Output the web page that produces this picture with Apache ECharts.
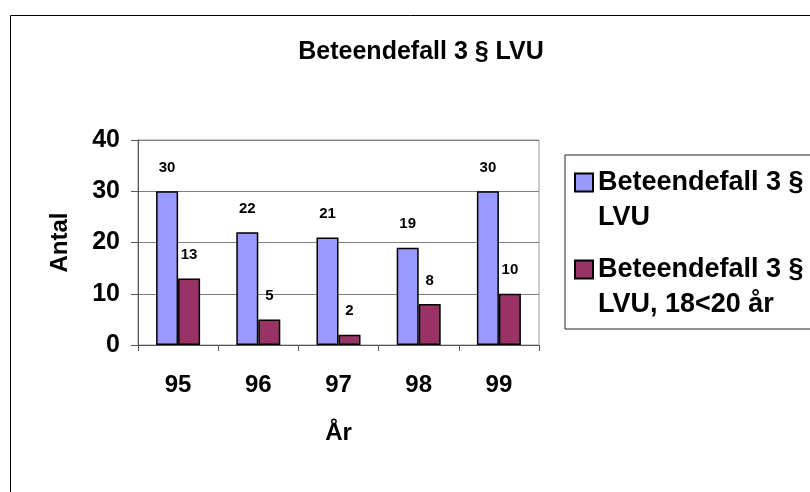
<!DOCTYPE html>
<html>
<head>
<meta charset="utf-8">
<script src="https://cdn.jsdelivr.net/npm/echarts@6/dist/echarts.min.js"></script>
<style>
html,body{margin:0;padding:0;background:#fff;}
#chart{width:810px;height:492px;}
</style>
</head>
<body>
<div id="chart"></div>
<script>
var categories = ['95', '96', '97', '98', '99'];
var seriesNames = ['Beteendefall 3 § LVU', 'Beteendefall 3 § LVU, 18<20 år'];
var valuesAll = [30, 22, 21, 19, 30];
var values1820 = [13, 5, 2, 8, 10];
var yTicks = [0, 10, 20, 30, 40];

var FONT = "'Liberation Sans', Arial, sans-serif";
var chart = echarts.init(document.getElementById('chart'), null, {renderer: 'canvas'});

var labelStyle = {
  show: true, position: 'top', distance: 16,
  fontFamily: FONT, fontWeight: 'bold', fontSize: 15, color: '#000'
};

// legend marker: square in the upper part of a tall icon box, so it lines up with the first text line
var legendIcon = 'path://M0,0L0,0M0,8.5L18,8.5L18,26.5L0,26.5ZM0,70L0,70';

chart.setOption({
  animation: false,
  backgroundColor: '#fff',
  title: {
    text: 'Beteendefall 3 § LVU',
    left: 416, top: 35, textAlign: 'center',
    textStyle: {fontFamily: FONT, fontWeight: 'bold', fontSize: 25, color: '#000'}
  },
  graphic: [{
    type: 'rect', shape: {x: 10.5, y: 15.5, width: 900, height: 600},
    style: {fill: 'none', stroke: '#000', lineWidth: 1}, silent: true
  }],
  legend: {
    orient: 'vertical', left: 565, top: 155,
    padding: [9, 60, 6, 9],
    itemGap: 15,
    itemWidth: 18, itemHeight: 70,
    borderColor: '#222', borderWidth: 1,
    icon: legendIcon,
    data: seriesNames,
    formatter: function (n) { return n.replace('§ ', '§\n'); },
    textStyle: {fontFamily: FONT, fontWeight: 'bold', fontSize: 27, color: '#000', lineHeight: 35}
  },
  grid: {
    left: 138, right: 271, top: 140, bottom: 147,
    show: true, borderColor: '#999', borderWidth: 1
  },
  xAxis: {
    type: 'category', data: categories,
    name: 'År', nameLocation: 'middle', nameGap: 76,
    nameTextStyle: {fontFamily: FONT, fontWeight: 'bold', fontSize: 24, color: '#000'},
    axisLine: {lineStyle: {color: '#555', width: 1}},
    axisTick: {show: true, length: 6, lineStyle: {color: '#555'}},
    axisLabel: {fontFamily: FONT, fontWeight: 'bold', fontSize: 24, color: '#000', margin: 28}
  },
  yAxis: {
    type: 'value', min: 0, max: 40, interval: 10,
    name: 'Antal', nameLocation: 'middle', nameGap: 66, nameRotate: 90,
    nameTextStyle: {fontFamily: FONT, fontWeight: 'bold', fontSize: 24, color: '#000'},
    axisLine: {show: true, lineStyle: {color: '#555', width: 1}},
    axisTick: {show: true, length: 7, lineStyle: {color: '#555'}},
    axisLabel: {fontFamily: FONT, fontWeight: 'bold', fontSize: 25, color: '#000', margin: 18,
      formatter: function (v) { return yTicks.indexOf(v) >= 0 ? String(v) : ''; }},
    splitLine: {show: true, lineStyle: {color: '#808080', width: 1}}
  },
  series: [{
    name: seriesNames[0], type: 'bar', data: valuesAll,
    barWidth: 22, barGap: '0%',
    itemStyle: {color: '#9999FF', borderColor: '#000', borderWidth: 1.5},
    label: labelStyle
  }, {
    name: seriesNames[1], type: 'bar', data: values1820,
    barWidth: 22,
    itemStyle: {color: '#993366', borderColor: '#000', borderWidth: 1.5},
    label: labelStyle
  }]
});
</script>
</body>
</html>
